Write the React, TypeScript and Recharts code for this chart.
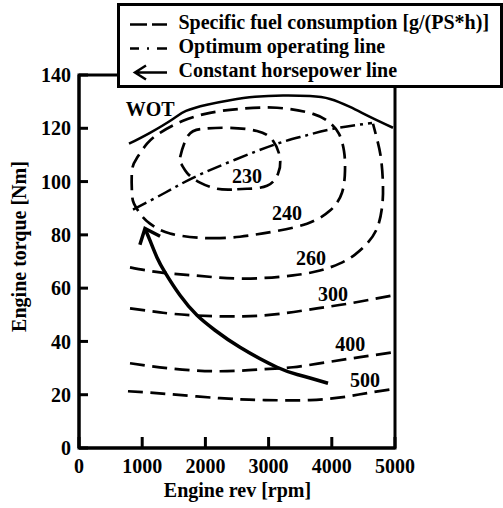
import { LineChart, Line, XAxis, YAxis, ReferenceArea, ReferenceDot, Legend } from "recharts";

type Pt = { rpm: number; nm: number };

const FONT = '"Liberation Serif", "Times New Roman", serif';

const rpmTicks = [0, 1000, 2000, 3000, 4000, 5000];
const torqueTicks = [0, 20, 40, 60, 80, 100, 120, 140];

// wide open throttle (full load) curve
const wot: Pt[] = [
  { rpm: 791, nm: 114.2 }, { rpm: 1123, nm: 118.3 }, { rpm: 1487, nm: 123.5 },
  { rpm: 1693, nm: 126.5 }, { rpm: 2025, nm: 128.8 }, { rpm: 2389, nm: 130.5 },
  { rpm: 2785, nm: 131.8 }, { rpm: 3228, nm: 132.3 }, { rpm: 3655, nm: 132.1 },
  { rpm: 3972, nm: 131.0 }, { rpm: 4288, nm: 128.0 }, { rpm: 4604, nm: 124.3 },
  { rpm: 4968, nm: 120.2 },
];

// fuel consumption islands (closed loops start and end at their lowest point)
const bsfc230: Pt[] = [
  { rpm: 2420, nm: 97.0 }, { rpm: 2184, nm: 97.3 }, { rpm: 1915, nm: 99.6 },
  { rpm: 1709, nm: 103.3 }, { rpm: 1614, nm: 106.7 }, { rpm: 1598, nm: 108.9 },
  { rpm: 1725, nm: 117.2 }, { rpm: 1962, nm: 119.8 }, { rpm: 2342, nm: 120.2 },
  { rpm: 2816, nm: 119.0 }, { rpm: 3070, nm: 115.3 }, { rpm: 3180, nm: 108.9 },
  { rpm: 3149, nm: 102.9 }, { rpm: 2975, nm: 98.4 }, { rpm: 2658, nm: 97.3 },
  { rpm: 2420, nm: 97.0 },
];

const bsfc240: Pt[] = [
  { rpm: 2231, nm: 78.8 }, { rpm: 1915, nm: 78.9 }, { rpm: 1440, nm: 80.5 },
  { rpm: 1123, nm: 84.2 }, { rpm: 965, nm: 88.0 }, { rpm: 870, nm: 91.7 },
  { rpm: 839, nm: 95.5 }, { rpm: 839, nm: 104.1 }, { rpm: 918, nm: 108.9 },
  { rpm: 1076, nm: 114.2 }, { rpm: 1282, nm: 118.3 }, { rpm: 1646, nm: 122.8 },
  { rpm: 2073, nm: 125.8 }, { rpm: 2547, nm: 127.3 }, { rpm: 3133, nm: 127.7 },
  { rpm: 3703, nm: 125.4 }, { rpm: 3972, nm: 122.0 }, { rpm: 4114, nm: 117.9 },
  { rpm: 4193, nm: 111.5 }, { rpm: 4209, nm: 104.1 }, { rpm: 4161, nm: 95.8 },
  { rpm: 3972, nm: 89.1 }, { rpm: 3608, nm: 84.2 }, { rpm: 3070, nm: 81.2 },
  { rpm: 2547, nm: 79.3 }, { rpm: 2231, nm: 78.8 },
];

const bsfc260: Pt[] = [
  { rpm: 807, nm: 67.8 }, { rpm: 1282, nm: 65.9 }, { rpm: 1804, nm: 64.8 },
  { rpm: 2595, nm: 63.6 }, { rpm: 3386, nm: 64.8 }, { rpm: 3813, nm: 66.6 },
  { rpm: 4130, nm: 69.3 }, { rpm: 4367, nm: 72.6 }, { rpm: 4557, nm: 76.7 },
  { rpm: 4715, nm: 82.4 }, { rpm: 4794, nm: 90.2 }, { rpm: 4810, nm: 98.4 },
  { rpm: 4779, nm: 108.6 }, { rpm: 4715, nm: 116.0 }, { rpm: 4652, nm: 121.7 },
];

const bsfc300: Pt[] = [
  { rpm: 807, nm: 52.4 }, { rpm: 1282, nm: 50.9 }, { rpm: 1804, nm: 49.8 },
  { rpm: 2595, nm: 49.4 }, { rpm: 3228, nm: 50.5 }, { rpm: 3766, nm: 52.4 },
  { rpm: 4288, nm: 54.3 }, { rpm: 4968, nm: 57.3 },
];

const bsfc400: Pt[] = [
  { rpm: 807, nm: 31.8 }, { rpm: 1440, nm: 29.9 }, { rpm: 2231, nm: 28.8 },
  { rpm: 2943, nm: 29.6 }, { rpm: 3386, nm: 30.3 }, { rpm: 3924, nm: 32.2 },
  { rpm: 4446, nm: 34.1 }, { rpm: 4968, nm: 35.9 },
];

const bsfc500: Pt[] = [
  { rpm: 775, nm: 21.3 }, { rpm: 1440, nm: 20.2 }, { rpm: 2231, nm: 18.7 },
  { rpm: 2943, nm: 18.0 }, { rpm: 3655, nm: 18.0 }, { rpm: 4177, nm: 19.1 },
  { rpm: 4557, nm: 20.6 }, { rpm: 4968, nm: 22.1 },
];

const optimum: Pt[] = [
  { rpm: 854, nm: 89.5 }, { rpm: 1361, nm: 95.8 }, { rpm: 1804, nm: 101.4 },
  { rpm: 2468, nm: 108.2 }, { rpm: 3133, nm: 114.2 }, { rpm: 3576, nm: 117.2 },
  { rpm: 4019, nm: 119.8 }, { rpm: 4636, nm: 122.0 },
];

// tail -> arrow tip
const horsepower: Pt[] = [
  { rpm: 3940, nm: 24.3 }, { rpm: 3497, nm: 27.3 }, { rpm: 3133, nm: 30.3 },
  { rpm: 2547, nm: 37.8 }, { rpm: 2152, nm: 44.2 }, { rpm: 1867, nm: 49.8 },
  { rpm: 1598, nm: 57.3 }, { rpm: 1361, nm: 65.9 }, { rpm: 1234, nm: 71.5 },
  { rpm: 1123, nm: 77.9 }, { rpm: 1044, nm: 82.4 },
];

const mapLabels = [
  { rpm: 1125, nm: 127.3, text: "WOT" },
  { rpm: 2660, nm: 102.2, text: "230" },
  { rpm: 3290, nm: 88.3, text: "240" },
  { rpm: 3670, nm: 71.5, text: "260" },
  { rpm: 4020, nm: 58.0, text: "300" },
  { rpm: 4290, nm: 38.9, text: "400" },
  { rpm: 4525, nm: 25.5, text: "500" },
];

const legendItems = [
  { kind: "dash", label: "Specific fuel consumption [g/(PS*h)]" },
  { kind: "dashdot", label: "Optimum operating line" },
  { kind: "arrow", label: "Constant horsepower line" },
];

const DASH = "15 7.5";
const DASH_DOT = "15 5 3 5";

const textStyle = { fill: "#000", fontSize: 20, fontWeight: "bold", fontFamily: FONT };

function ArrowHead(props: any) {
  const { cx, cy, index, points } = props;
  if (index !== horsepower.length - 1 || cx == null) return <g key={`hp-${index}`} />;
  let dx = 5;
  let dy = 12;
  if (points && points[index - 1]) {
    dx = points[index - 1].x - cx;
    dy = points[index - 1].y - cy;
  }
  const a = Math.atan2(dy, dx);
  const len = 17;
  const spread = (40 * Math.PI) / 180;
  const x1 = cx + len * Math.cos(a - spread);
  const y1 = cy + len * Math.sin(a - spread);
  const x2 = cx + len * Math.cos(a + spread);
  const y2 = cy + len * Math.sin(a + spread);
  return (
    <path
      key={`hp-${index}`}
      d={`M${x1},${y1}L${cx},${cy}L${x2},${y2}`}
      fill="none"
      stroke="#000"
      strokeWidth={3.5}
    />
  );
}

function LegendIcon({ kind }: { kind: string }) {
  if (kind === "arrow") {
    return (
      <svg width={37} height={24} style={{ display: "block" }}>
        <path d="M5,14.5 L37,14.5 M16,7.5 L5,14.5 L16,21.5" fill="none" stroke="#000" strokeWidth={2.5} />
      </svg>
    );
  }
  return (
    <svg width={37} height={24} style={{ display: "block" }}>
      <line
        x1={0}
        x2={37}
        y1={14.5}
        y2={14.5}
        stroke="#000"
        strokeWidth={2.7}
        strokeDasharray={kind === "dash" ? "17 5" : "9 8 2 8 10"}
      />
    </svg>
  );
}

function LegendBox() {
  return (
    <div
      style={{
        boxSizing: "border-box",
        width: 386,
        height: 85,
        border: "3.5px solid #000",
        background: "#fff",
        paddingTop: 3.5,
        paddingLeft: 9.5,
        fontFamily: FONT,
        fontWeight: "bold",
        fontSize: 20,
        lineHeight: "24px",
        color: "#000",
      }}
    >
      {legendItems.map((item) => (
        <div key={item.kind} style={{ display: "flex", height: 24, whiteSpace: "nowrap" }}>
          <LegendIcon kind={item.kind} />
          <span style={{ marginLeft: 12 }}>{item.label}</span>
        </div>
      ))}
    </div>
  );
}

export default function App() {
  return (
    <div style={{ position: "absolute", left: 0, top: 0, width: 503, height: 508, background: "#fff" }}>
      <LineChart width={503} height={508} margin={{ top: 75, right: 108, bottom: 30, left: 19 }}>
        <XAxis
          type="number"
          dataKey="rpm"
          domain={[0, 5000]}
          ticks={rpmTicks}
          interval={0}
          allowDataOverflow
          height={30}
          tickSize={-11}
          tickMargin={22}
          axisLine={{ stroke: "#000", strokeWidth: 3 }}
          tickLine={{ stroke: "#000", strokeWidth: 3 }}
          tick={textStyle}
          label={{
            content: () => (
              <text x={237.5} y={496.5} textAnchor="middle" {...textStyle}>
                Engine rev [rpm]
              </text>
            ),
          }}
        />
        <YAxis
          type="number"
          domain={[0, 140]}
          ticks={torqueTicks}
          interval={0}
          allowDataOverflow
          width={60}
          tickSize={-9}
          tickMargin={17}
          axisLine={{ stroke: "#000", strokeWidth: 3 }}
          tickLine={{ stroke: "#000", strokeWidth: 3 }}
          tick={textStyle}
          label={{
            content: () => (
              <text x={26} y={246.5} textAnchor="middle" transform="rotate(-90 26 246.5)" {...textStyle}>
                Engine torque [Nm]
              </text>
            ),
          }}
        />
        <ReferenceArea x1={0} x2={5000} y1={0} y2={140} fill="none" stroke="#000" strokeWidth={3} ifOverflow="visible" />

        <Line data={wot} dataKey="nm" type="natural" stroke="#000" strokeWidth={2.5} dot={false} activeDot={false} isAnimationActive={false} />
        <Line data={bsfc230} dataKey="nm" type="natural" stroke="#000" strokeWidth={2.7} strokeDasharray={DASH} dot={false} activeDot={false} isAnimationActive={false} />
        <Line data={bsfc240} dataKey="nm" type="natural" stroke="#000" strokeWidth={2.7} strokeDasharray={DASH} dot={false} activeDot={false} isAnimationActive={false} />
        <Line data={bsfc260} dataKey="nm" type="natural" stroke="#000" strokeWidth={2.7} strokeDasharray={DASH} dot={false} activeDot={false} isAnimationActive={false} />
        <Line data={bsfc300} dataKey="nm" type="natural" stroke="#000" strokeWidth={2.7} strokeDasharray={DASH} dot={false} activeDot={false} isAnimationActive={false} />
        <Line data={bsfc400} dataKey="nm" type="natural" stroke="#000" strokeWidth={2.7} strokeDasharray={DASH} dot={false} activeDot={false} isAnimationActive={false} />
        <Line data={bsfc500} dataKey="nm" type="natural" stroke="#000" strokeWidth={2.7} strokeDasharray={DASH} dot={false} activeDot={false} isAnimationActive={false} />
        <Line data={optimum} dataKey="nm" type="natural" stroke="#000" strokeWidth={2.5} strokeDasharray={DASH_DOT} dot={false} activeDot={false} isAnimationActive={false} />
        <Line data={horsepower} dataKey="nm" type="natural" stroke="#000" strokeWidth={3.5} dot={ArrowHead} activeDot={false} isAnimationActive={false} />

        {mapLabels.map((l) => (
          <ReferenceDot
            key={l.text}
            x={l.rpm}
            y={l.nm}
            r={0}
            fill="none"
            stroke="none"
            ifOverflow="visible"
            label={{ value: l.text, position: "center", ...textStyle }}
          />
        ))}

        <Legend
          layout="horizontal"
          verticalAlign="middle"
          align="center"
          wrapperStyle={{ left: 117, top: 3, width: 386, height: 85 }}
          content={() => <LegendBox />}
        />
      </LineChart>
    </div>
  );
}
